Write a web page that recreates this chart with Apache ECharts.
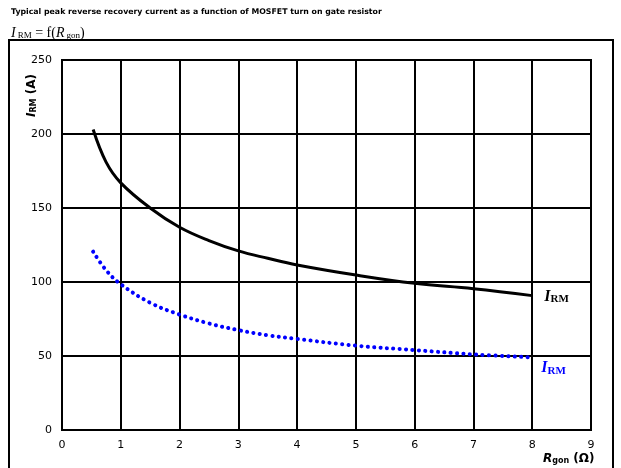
<!DOCTYPE html>
<html>
<head>
<meta charset="utf-8">
<script src="https://cdn.jsdelivr.net/npm/echarts@6/dist/echarts.min.js"></script>
<style>
  html, body { margin: 0; padding: 0; background: #fff; }
  #chart { width: 621px; height: 468px; }
</style>
</head>
<body>
<div id="chart"></div>
<script>
// gate resistor values (Ohm)
var rgon = [0.53, 0.75, 1, 1.5, 2, 2.5, 3, 3.5, 4, 5, 6, 7, 8];
// peak reverse recovery current, black curve (A)
var irmBlack = [203, 181, 167, 150, 137, 128, 121, 116, 111.5, 104.7, 99.1, 95.5, 90.8];
// peak reverse recovery current, blue dotted curve (A)
var irmBlue = [120.5, 108, 98.5, 86, 78, 72, 67.5, 64, 61.5, 57, 54, 51.1, 49.1];

var xTicks = [0, 9, 1];
var yTicks = [0, 250, 50];

function pairs(xs, ys) {
	var out = [];
	for (var i = 0; i < xs.length; i++) {
		out.push([xs[i], ys[i]]);
	}
	return out;
}

var serifRich = function(color) {
	return {
		i : { fontFamily : 'Liberation Serif', fontStyle : 'italic', fontWeight : 'bold', fontSize : 16, color : color },
		s : { fontFamily : 'Liberation Serif', fontWeight : 'bold', fontSize : 11, color : color, verticalAlign : 'bottom', padding : [6, 0, 0, 0] }
	};
};

var sansName = {
	i : { fontFamily : 'DejaVu Sans', fontStyle : 'italic', fontWeight : 'bold', fontSize : 12, color : '#000' },
	s : { fontFamily : 'DejaVu Sans', fontWeight : 'bold', fontSize : 8, color : '#000', verticalAlign : 'bottom', padding : [4, 0, 0, 0] },
	n : { fontFamily : 'DejaVu Sans', fontWeight : 'bold', fontSize : 12, color : '#000' }
};

var option = {
	animation : false,
	backgroundColor : '#fff',
	grid : {
		left : 62,
		right : 30,
		top : 60,
		bottom : 38
	},
	xAxis : {
		type : 'value',
		min : xTicks[0],
		max : xTicks[1],
		interval : xTicks[2],
		axisLine : { show : true, lineStyle : { color : '#000', width : 2 } },
		axisTick : { show : false },
		axisLabel : {
			color : '#000',
			fontFamily : 'DejaVu Sans',
			fontSize : 11,
			margin : 10
		},
		splitLine : { show : true, lineStyle : { color : '#000', width : 2 } }
	},
	yAxis : {
		type : 'value',
		min : yTicks[0],
		max : yTicks[1],
		interval : yTicks[2],
		axisLine : { show : true, lineStyle : { color : '#000', width : 2 } },
		axisTick : { show : false },
		axisLabel : {
			color : '#000',
			fontFamily : 'DejaVu Sans',
			fontSize : 11,
			margin : 10
		},
		splitLine : { show : true, lineStyle : { color : '#000', width : 2 } }
	},
	graphic : [
		{
			type : 'rect',
			shape : { x : 9, y : 40, width : 604, height : 440 },
			style : { fill : 'none', stroke : '#000', lineWidth : 2 },
			silent : true
		},
		{
			// plot frame top/right
			type : 'rect',
			shape : { x : 62, y : 60, width : 529, height : 370 },
			style : { fill : 'none', stroke : '#000', lineWidth : 2 },
			silent : true,
			z : 10
		},
		{
			type : 'text',
			left : 11,
			top : 8,
			style : {
				text : 'Typical peak reverse recovery current as a function of MOSFET turn on gate resistor',
				fontFamily : 'DejaVu Sans',
				fontWeight : 'bold',
				fontSize : 7.8,
				fill : '#000'
			}
		},
		{
			type : 'text',
			left : 11,
			top : 26,
			style : {
				text : '{i|I}{s|RM}{n| = f(}{i|R}{s|gon}{n|)}',
				rich : {
					i : { fontFamily : 'Liberation Serif', fontStyle : 'italic', fontSize : 14, color : '#000' },
					s : { fontFamily : 'Liberation Serif', fontSize : 9, color : '#000', verticalAlign : 'bottom', padding : [5, 0, 0, 2] },
					n : { fontFamily : 'Liberation Serif', fontSize : 14, color : '#000' }
				}
			}
		},
		{
			type : 'text',
			x : 26,
			y : 117,
			rotation : Math.PI / 2,
			style : {
				text : '{i|I}{s|RM}{n| (A)}',
				rich : sansName
			}
		},
		{
			type : 'text',
			left : 543,
			top : 453,
			style : {
				text : '{i|R}{s|gon}{n| (Ω)}',
				rich : sansName
			}
		}
	],
	series : [
		{
			name : 'IRM black',
			type : 'line',
			smooth : 0.4,
			showSymbol : false,
			data : pairs(rgon, irmBlack),
			lineStyle : { color : '#000', width : 3 },
			endLabel : {
				show : true,
				formatter : '{i|I}{s|RM}',
				rich : serifRich('#000'),
				distance : 12,
				offset : [0, 1]
			},
			z : 5
		},
		{
			name : 'IRM blue',
			type : 'line',
			smooth : 0.4,
			showSymbol : false,
			data : pairs(rgon, irmBlue),
			lineStyle : { color : '#0000ff', width : 4, type : [0.1, 6.3], cap : 'round' },
			endLabel : {
				show : true,
				formatter : '{i|I}{s|RM}',
				rich : serifRich('#0000ff'),
				distance : 9,
				offset : [0, 11]
			},
			z : 5
		}
	]
};

var chart = echarts.init(document.getElementById('chart'));
chart.setOption(option);
</script>
</body>
</html>
